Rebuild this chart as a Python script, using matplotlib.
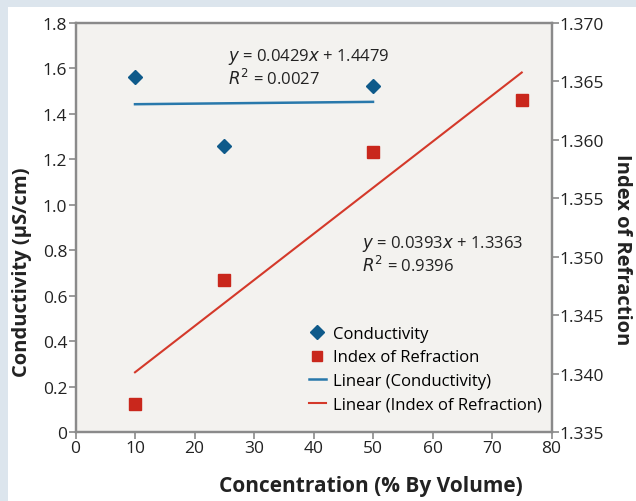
import numpy as np
import matplotlib.pyplot as plt
from matplotlib.patches import Rectangle
from matplotlib.lines import Line2D

plt.rcParams['font.family'] = ['Open Sans', 'DejaVu Sans']

# data
conc_cond = [10, 25, 50]
conductivity = [1.561, 1.257, 1.524]
conc_ri = [10, 25, 50, 75]
refraction = [1.3374, 1.3480, 1.3590, 1.3634]

x_ticks = [0, 10, 20, 30, 40, 50, 60, 70, 80]
left_ticks = [0, 0.2, 0.4, 0.6, 0.8, 1.0, 1.2, 1.4, 1.6, 1.8]
left_labels = ['0', '0.2', '0.4', '0.6', '0.8', '1.0', '1.2', '1.4', '1.6', '1.8']
right_ticks = [1.335, 1.340, 1.345, 1.350, 1.355, 1.360, 1.365, 1.370]

eq_cond = '$y$ = 0.0429$x$ + 1.4479\n$R^2$ = 0.0027'
eq_ri = '$y$ = 0.0393$x$ + 1.3363\n$R^2$ = 0.9396'

blue = '#0e5a8a'
blue_line = '#2878ab'
red = '#c9271c'
red_line = '#d4392a'
grey = '#8a8a8a'
ink = '#222222'

W, H = 636, 502
fig = plt.figure(figsize=(W / 100, H / 100), dpi=100)
fig.patch.set_facecolor('#dce5ed')
fig.patches.append(Rectangle((8 / W, 0), 1, (H - 8) / H, transform=fig.transFigure,
                             facecolor='white', edgecolor='none', zorder=-5))

left, right, top, bottom = 75.5, 551.5, 24, 433
ax = fig.add_axes([left / W, (H - bottom) / H, (right - left) / W, (bottom - top) / H])
ax.set_facecolor('#f3f2ef')
ax2 = ax.twinx()

ax.plot(conc_cond, conductivity, linestyle='none', marker='D', markersize=7.5,
        color=blue, label='Conductivity')
ax2.plot(conc_ri, refraction, linestyle='none', marker='s', markersize=8,
         color=red, label='Index of Refraction')

# linear trendlines
p1 = np.polyfit(conc_cond, conductivity, 1)
xs1 = np.array([min(conc_cond), max(conc_cond)])
ax.plot(xs1, np.polyval(p1, xs1), color=blue_line, linewidth=1.8)
p2 = np.polyfit(conc_ri, refraction, 1)
xs2 = np.array([min(conc_ri), max(conc_ri)])
ax2.plot(xs2, np.polyval(p2, xs2), color=red_line, linewidth=1.5)

ax.set_xlim(0, 80)
ax.set_ylim(0, 1.8)
ax2.set_ylim(1.335, 1.370)
ax.set_xticks(x_ticks)
ax.set_yticks(left_ticks)
ax.set_yticklabels(left_labels)
ax2.set_yticks(right_ticks)
ax2.set_yticklabels(['%.3f' % v for v in right_ticks])

for a in (ax, ax2):
    for s in a.spines.values():
        s.set_color(grey)
        s.set_linewidth(1.6)
    a.tick_params(colors=grey, labelcolor=ink, labelsize=12.5, length=5, width=1.2, pad=1)

# axis titles placed where the reference has them
fig.text(371 / W, 1 - 487 / H, 'Concentration (% By Volume)', fontsize=15, fontweight='bold',
         color=ink, ha='center', va='center')
fig.text(22 / W, 1 - 272 / H, 'Conductivity (µS/cm)', fontsize=14.5, fontweight='bold',
         color=ink, ha='center', va='center', rotation=90)
fig.text(622 / W, 1 - 250 / H, 'Index of Refraction', fontsize=14.5, fontweight='bold',
         color=ink, ha='center', va='center', rotation=-90)

fig.text(228 / W, 1 - 68 / H, eq_cond, fontsize=12, va='center', ha='left', color=ink,
         linespacing=1.15)
fig.text(362 / W, 1 - 255 / H, eq_ri, fontsize=12, va='center', ha='left', color=ink,
         linespacing=1.15)

handles = [
    Line2D([], [], linestyle='none', marker='D', markersize=7.5, color=blue),
    Line2D([], [], linestyle='none', marker='s', markersize=7, color=red),
    Line2D([], [], color=blue_line, linewidth=1.8),
    Line2D([], [], color=red_line, linewidth=1.5),
]
labels = ['Conductivity', 'Index of Refraction', 'Linear (Conductivity)', 'Linear (Index of Refraction)']
ax2.legend(handles, labels, loc='upper left', bbox_to_anchor=(309 / W, 1 - 327 / H),
           bbox_transform=fig.transFigure, frameon=False, fontsize=12, handlelength=1.0,
           handletextpad=0.45, labelspacing=0.45, borderpad=0, borderaxespad=0)

fig.savefig('out.png', dpi=100, facecolor=fig.get_facecolor())
